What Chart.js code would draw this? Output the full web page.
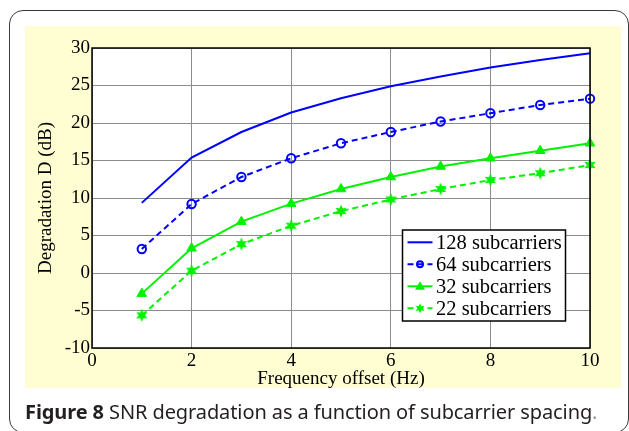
<!DOCTYPE html>
<html>
<head>
<meta charset="utf-8">
<script src="https://cdn.jsdelivr.net/npm/chart.js@4"></script>
<style>
  html, body { margin: 0; padding: 0; background: #fff; }
  body { width: 629px; height: 431px; position: relative; overflow: hidden; }
  #frame { position: absolute; left: 9px; top: 10px; width: 620px; height: 423px;
           border: 1.7px solid #3a3a3a; border-radius: 14px; box-sizing: border-box; }
  #panel { position: absolute; left: 25px; top: 26px; width: 596px; height: 362px; background: #fffdd2; }
  #wrap { position: absolute; left: 0; top: 0; width: 629px; height: 431px; }
  #caption { position: absolute; left: 25px; top: 398px; font-family: "Noto Sans", sans-serif;
             font-size: 20px; line-height: 28px; color: #231f20; white-space: nowrap; letter-spacing: -0.1px; }
  #caption b { font-weight: bold; }
  #caption .dot { color: #999; }
</style>
</head>
<body>
<div id="frame"></div>
<div id="panel"></div>
<div id="wrap"><canvas id="snrChart"></canvas></div>
<div id="caption"><b>Figure 8</b> SNR degradation as a function of subcarrier spacing<span class="dot">.</span></div>
<script>
const offsets = [1, 2, 3, 4, 5, 6, 7, 8, 9, 10];
const sub128 = [9.35, 15.4, 18.8, 21.4, 23.3, 24.9, 26.2, 27.4, 28.4, 29.3];
const sub64 = [3.2, 9.2, 12.8, 15.3, 17.3, 18.8, 20.2, 21.3, 22.4, 23.25];
const sub32 = [-2.75, 3.3, 6.85, 9.25, 11.2, 12.8, 14.2, 15.3, 16.3, 17.3];
const sub22 = [-5.65, 0.3, 3.85, 6.3, 8.25, 9.8, 11.2, 12.4, 13.3, 14.4];
const labels = ["128 subcarriers", "64 subcarriers", "32 subcarriers", "22 subcarriers"];

const BLUE = "#0000ff";
const GREEN = "#00f200";
const serif = "'Liberation Serif', 'Times New Roman', serif";

// filled six point star, like matlab's hexagram marker
function starPath(g, cx, cy, R, r) {
  g.beginPath();
  for (let i = 0; i < 12; i++) {
    const rad = i % 2 === 0 ? R : r;
    const a = -Math.PI / 2 + i * Math.PI / 6;
    const px = cx + rad * Math.cos(a), py = cy + rad * Math.sin(a);
    if (i === 0) g.moveTo(px, py); else g.lineTo(px, py);
  }
  g.closePath();
}
function starMarker(color) {
  const c = document.createElement("canvas");
  c.width = 14; c.height = 14;
  const g = c.getContext("2d");
  g.fillStyle = color;
  starPath(g, 7, 7, 6.5, 3.2);
  g.fill();
  return c;
}
const star = starMarker(GREEN);

function pts(vals) {
  return offsets.map((x, i) => ({ x: x, y: vals[i] }));
}

const plotFrame = {
  id: "plotFrame",
  beforeDraw(chart) {
    const a = chart.chartArea, ctx = chart.ctx;
    ctx.save();
    ctx.fillStyle = "#fff";
    ctx.fillRect(a.left, a.top, a.right - a.left, a.bottom - a.top);
    ctx.restore();
  },
  afterDraw(chart) {
    const a = chart.chartArea, ctx = chart.ctx;
    ctx.save();
    ctx.strokeStyle = "#000";
    ctx.lineWidth = 1.5;
    ctx.strokeRect(a.left, a.top, a.right - a.left, a.bottom - a.top);

    // legend box, lower right inside the axes
    const lx = a.left + 310.5, ly = a.top + 182, lw = 163, lh = 91;
    ctx.fillStyle = "#fff";
    ctx.fillRect(lx, ly, lw, lh);
    ctx.strokeRect(lx, ly, lw, lh);
    ctx.font = "20.5px " + serif;
    ctx.textBaseline = "middle";
    chart.data.datasets.forEach((ds, i) => {
      const y = ly + 12.3 + i * 22;
      const mx = lx + 17.5;
      ctx.strokeStyle = ds.borderColor;
      ctx.fillStyle = ds.borderColor;
      ctx.lineWidth = 2;
      ctx.setLineDash(ds.borderDash || []);
      ctx.beginPath();
      ctx.moveTo(lx + 5, y);
      ctx.lineTo(lx + 30, y);
      ctx.stroke();
      ctx.setLineDash([]);
      if (ds.pointStyle === "circle") {
        ctx.beginPath();
        ctx.arc(mx, y, 3, 0, Math.PI * 2);
        ctx.stroke();
      } else if (ds.pointStyle === "triangle") {
        ctx.beginPath();
        ctx.moveTo(mx, y - 5);
        ctx.lineTo(mx + 5, y + 3.5);
        ctx.lineTo(mx - 5, y + 3.5);
        ctx.closePath();
        ctx.fill();
      } else if (ds.pointStyle) {
        starPath(ctx, mx, y, 5, 2.5);
        ctx.fill();
      }
      ctx.fillStyle = "#000";
      ctx.fillText(ds.label, lx + 33.5, y + 1);
    });
    ctx.restore();
  }
};

new Chart(document.getElementById("snrChart"), {
  type: "line",
  data: {
    datasets: [{
      label: labels[0],
      data: pts(sub128),
      borderColor: BLUE,
      borderWidth: 2,
      pointRadius: 0,
      clip: false
    }, {
      label: labels[1],
      data: pts(sub64),
      borderColor: BLUE,
      borderWidth: 2,
      borderDash: [6, 4],
      pointStyle: "circle",
      pointRadius: 4.2,
      pointBorderWidth: 2,
      pointBorderColor: BLUE,
      pointBackgroundColor: "rgba(0,0,0,0)",
      clip: false
    }, {
      label: labels[2],
      data: pts(sub32),
      borderColor: GREEN,
      borderWidth: 2,
      pointStyle: "triangle",
      pointRadius: 5.5,
      pointBorderWidth: 1,
      pointBorderColor: GREEN,
      pointBackgroundColor: GREEN,
      clip: false
    }, {
      label: labels[3],
      data: pts(sub22),
      borderColor: GREEN,
      borderWidth: 2,
      borderDash: [6, 4],
      pointStyle: star,
      pointRadius: 6,
      pointBackgroundColor: GREEN,
      clip: false
    }]
  },
  options: {
    responsive: true,
    maintainAspectRatio: false,
    animation: false,
    layout: { padding: { left: 31, top: 48, right: 39, bottom: 37 } },
    plugins: { legend: { display: false }, tooltip: { enabled: false } },
    elements: { line: { tension: 0 } },
    scales: {
      x: {
        type: "linear",
        min: 0, max: 10,
        ticks: { stepSize: 2, color: "#000", padding: 2, font: { family: serif, size: 19 } },
        grid: { color: "#8c8c8c", lineWidth: 1, drawTicks: false },
        border: { display: false },
        title: { display: true, text: "Frequency offset (Hz)", color: "#000", font: { family: serif, size: 19 } },
        afterFit(scale) { scale.height = 46; }
      },
      y: {
        min: -10, max: 30,
        ticks: { stepSize: 5, color: "#000", padding: 2, font: { family: serif, size: 19 } },
        grid: { color: "#8c8c8c", lineWidth: 1, drawTicks: false },
        border: { display: false },
        title: { display: true, text: "Degradation D (dB)", color: "#000", font: { family: serif, size: 19 } },
        afterFit(scale) { scale.width = 61; }
      }
    }
  },
  plugins: [plotFrame]
});
</script>
</body>
</html>
